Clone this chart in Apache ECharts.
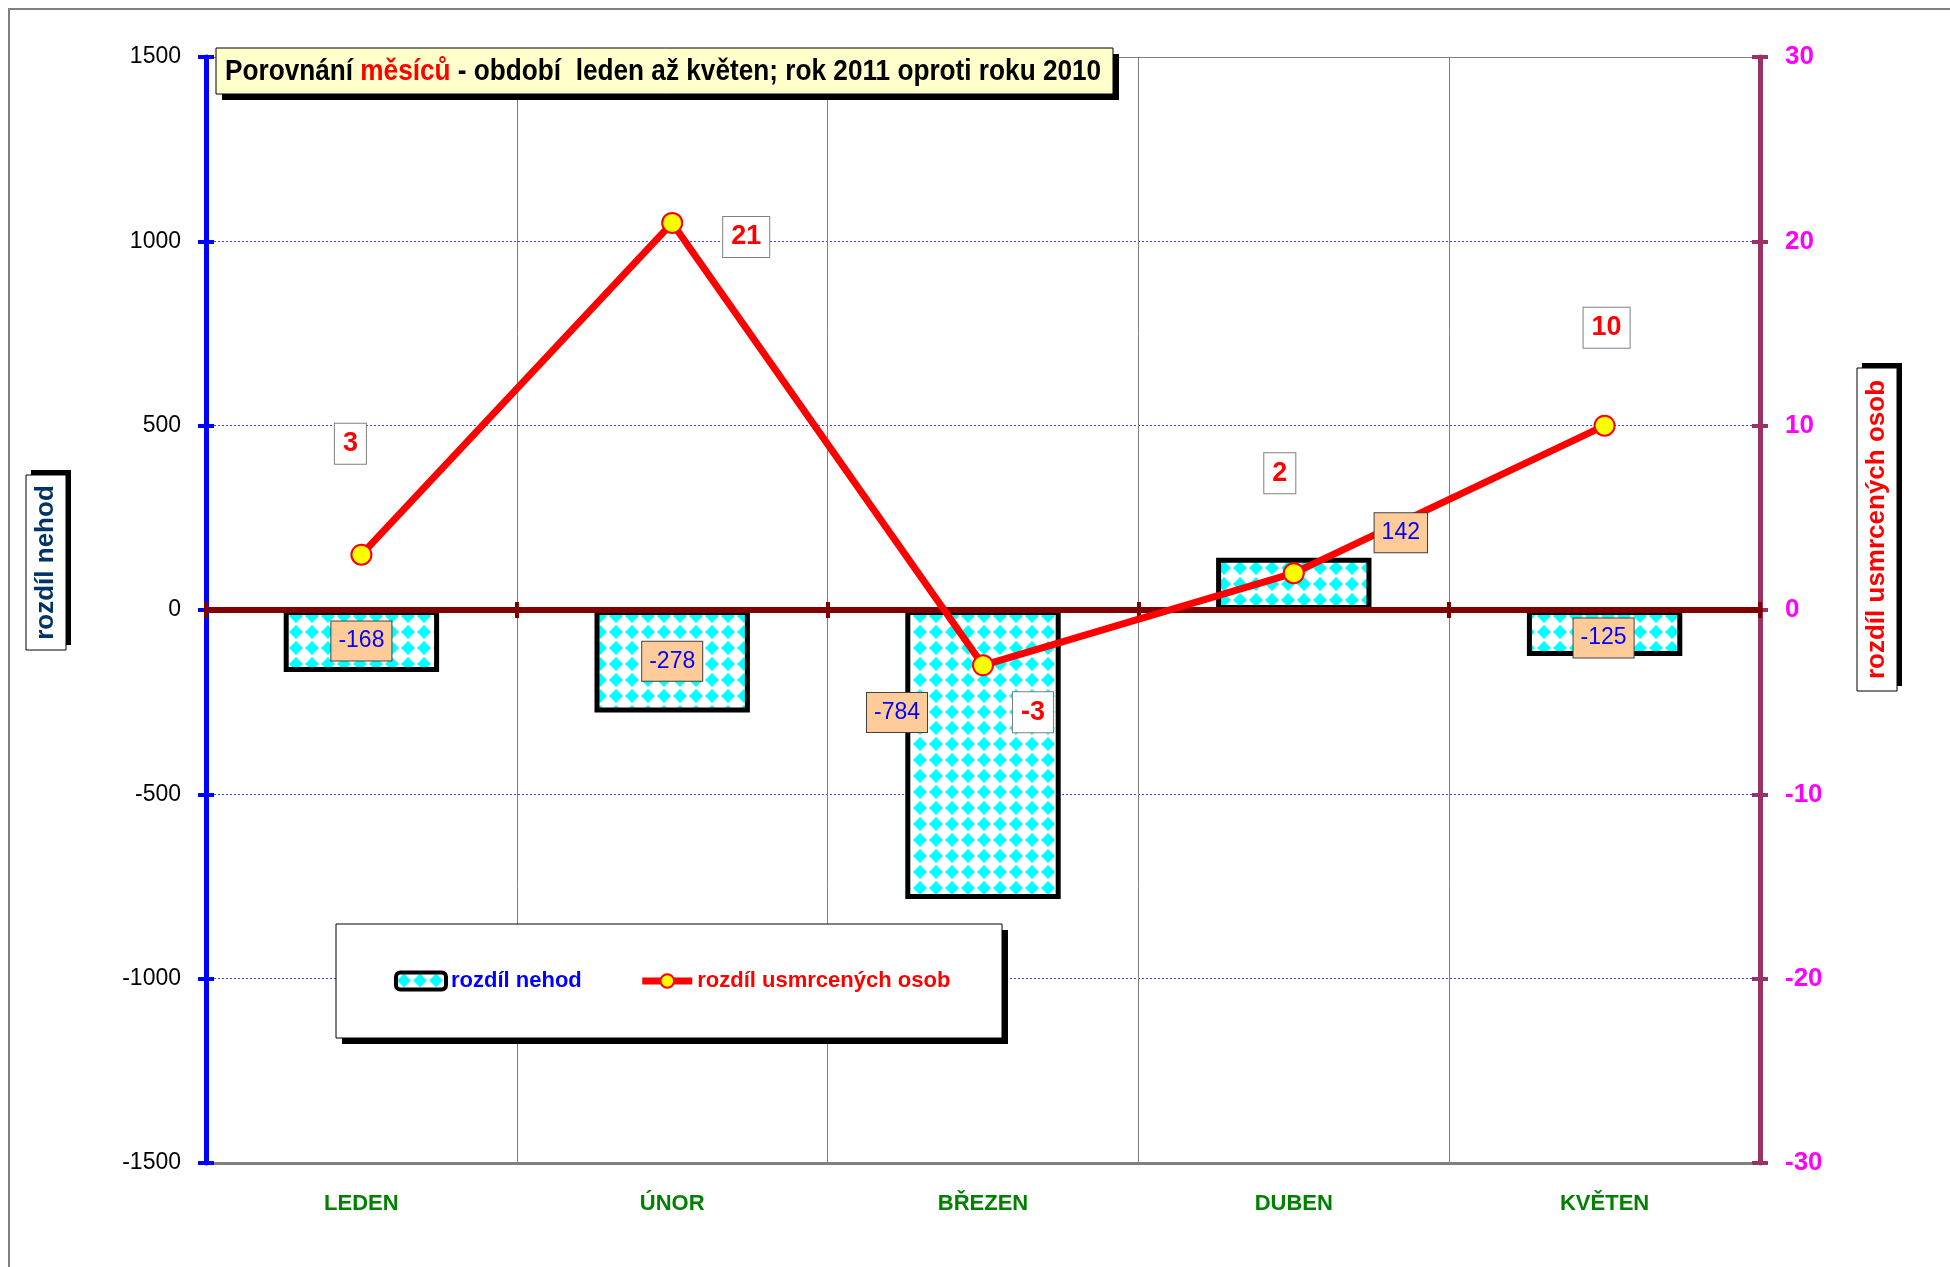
<!DOCTYPE html>
<html><head><meta charset="utf-8">
<script src="https://cdn.jsdelivr.net/npm/echarts@6/dist/echarts.min.js"></script>
<style>html,body{margin:0;padding:0;background:#fff}#c{width:1950px;height:1267px}</style>
</head><body><div id="c"></div>
<script>
// ---- data ----
const categories = ['LEDEN', 'ÚNOR', 'BŘEZEN', 'DUBEN', 'KVĚTEN'];
const accidentDiff = [-168, -278, -784, 142, -125];      // rozdíl nehod (left axis)
const deathDiff = [3, 21, -3, 2, 10];                    // rozdíl usmrcených osob (right axis)
const leftAxisRange = [-1500, 1500];
const leftAxisStep = 500;
const rightAxisRange = [-30, 30];
const rightAxisStep = 10;
const seriesNames = ['rozdíl nehod', 'rozdíl usmrcených osob'];
const axisTitles = ['rozdíl nehod', 'rozdíl usmrcených osob'];
const chartTitleParts = ['Porovnání ', 'měsíců', ' - období  leden až květen; rok 2011 oproti roku 2010'];

// ---- layout (label offsets, pixels) ----
const barLabelOffsets = [[0, 0], [0, 0], [-86, -42], [107, -51], [-1, 5]];
const lineLabelOffsets = [[-11, -111], [74, 14], [50, 47], [-14, -100], [2, -98]];

const SANS = "'Liberation Sans',Arial,sans-serif";

function makePattern() {
  const c = document.createElement('canvas');
  c.width = 16; c.height = 16;
  const g = c.getContext('2d');
  g.fillStyle = '#ffffff'; g.fillRect(0, 0, 16, 16);
  g.fillStyle = '#00FFFF';
  g.beginPath();
  g.moveTo(8, 1); g.lineTo(15, 8); g.lineTo(8, 15); g.lineTo(1, 8);
  g.closePath(); g.fill();
  return c;
}
const pattern = { image: makePattern(), repeat: 'repeat' };

const chart = echarts.init(document.getElementById('c'), null, { renderer: 'canvas' });

const xBase = { type: 'category', data: categories, boundaryGap: true };
const plainNum = v => String(v);

const option = {
  backgroundColor: '#ffffff',
  animation: false,
  legend: {
    left: 336, top: 924, z: 6,
    orient: 'horizontal',
    padding: [44, 51, 44, 58],
    itemGap: 57, itemWidth: 50, itemHeight: 17,
    selectedMode: false,
    textStyle: { fontFamily: SANS, fontWeight: 'bold', fontSize: 22, lineHeight: 26 },
    data: [
      { name: seriesNames[0], textStyle: { color: '#0000FF' },
        itemStyle: { borderColor: '#000000', borderWidth: 4 } },
      { name: seriesNames[1], textStyle: { color: '#FF0000' },
        lineStyle: { color: '#FF0000', width: 7 },
        itemStyle: { color: '#FFFF00', borderColor: '#FF0000', borderWidth: 2 } }
    ]
  },
  grid: { left: 206, right: 190, top: 57, bottom: 104, containLabel: false },
  xAxis: [
    Object.assign({}, xBase, {
      position: 'bottom',
      axisLine: { onZero: false, lineStyle: { color: '#808080', width: 3 } },
      axisTick: { show: false },
      axisLabel: { color: '#008000', fontFamily: SANS, fontWeight: 'bold', fontSize: 22, margin: 30 },
      splitLine: { show: true, lineStyle: { color: '#808080', width: 1 } }
    }),
    Object.assign({}, xBase, {
      position: 'bottom', z: 3,
      axisLine: { onZero: true, lineStyle: { color: '#800000', width: 6 } },
      axisTick: { show: true, inside: false, length: 8, lineStyle: { color: '#800000', width: 4 } },
      axisLabel: { show: false },
      splitLine: { show: false }
    }),
    Object.assign({}, xBase, {
      position: 'bottom', z: 3,
      axisLine: { show: false, onZero: true },
      axisTick: { show: true, inside: true, length: 8, lineStyle: { color: '#800000', width: 4 } },
      axisLabel: { show: false },
      splitLine: { show: false }
    }),
    Object.assign({}, xBase, {
      position: 'top',
      axisLine: { onZero: false, lineStyle: { color: '#808080', width: 1 } },
      axisTick: { show: false },
      axisLabel: { show: false },
      splitLine: { show: false }
    })
  ],
  yAxis: [
    {
      type: 'value', position: 'left',
      min: leftAxisRange[0], max: leftAxisRange[1], interval: leftAxisStep,
      axisLine: { show: true, onZero: false, lineStyle: { color: '#0000FF', width: 5 } },
      axisTick: { show: true, length: 8, lineStyle: { color: '#0000FF', width: 4 } },
      axisLabel: { color: '#000000', fontFamily: SANS, fontSize: 23, margin: 25, formatter: plainNum },
      splitLine: { show: true, lineStyle: { color: '#4040FF', width: 1, type: [2, 2] } }
    },
    {
      type: 'value', position: 'right',
      min: rightAxisRange[0], max: rightAxisRange[1], interval: rightAxisStep,
      axisLine: { show: true, onZero: false, lineStyle: { color: '#993366', width: 5 } },
      axisTick: { show: true, length: 8, lineStyle: { color: '#993366', width: 4 } },
      axisLabel: { color: '#FF00FF', fontFamily: SANS, fontWeight: 'bold', fontSize: 26, margin: 25, formatter: plainNum },
      splitLine: { show: false }
    },
    {
      type: 'value', position: 'left',
      min: leftAxisRange[0], max: leftAxisRange[1], interval: leftAxisStep,
      axisLine: { show: false, onZero: false },
      axisTick: { show: true, inside: true, length: 8, lineStyle: { color: '#0000FF', width: 4 } },
      axisLabel: { show: false }, splitLine: { show: false }
    },
    {
      type: 'value', position: 'right',
      min: rightAxisRange[0], max: rightAxisRange[1], interval: rightAxisStep,
      axisLine: { show: false, onZero: false },
      axisTick: { show: true, inside: true, length: 8, lineStyle: { color: '#993366', width: 4 } },
      axisLabel: { show: false }, splitLine: { show: false }
    }
  ],
  series: [
    {
      name: seriesNames[0], type: 'bar', xAxisIndex: 0, yAxisIndex: 0, z: 2,
      barWidth: '50%',
      data: accidentDiff,
      itemStyle: { color: pattern, borderColor: '#000000', borderWidth: 5 },
      label: { show: false }
    },
    {
      name: seriesNames[1], type: 'line', xAxisIndex: 0, yAxisIndex: 1, z: 5,
      data: deathDiff.map((v, i) => ({ value: v, label: { offset: lineLabelOffsets[i] } })),
      lineStyle: { color: '#FF0000', width: 7 },
      symbol: 'circle', symbolSize: 20,
      itemStyle: { color: '#FFFF00', borderColor: '#FF0000', borderWidth: 2 },
      label: {
        show: true, position: 'inside',
        fontFamily: SANS, fontWeight: 'bold', fontSize: 27, lineHeight: 27,
        color: '#FF0000', backgroundColor: '#ffffff',
        borderColor: '#808080', borderWidth: 1, padding: [7, 8, 6, 8]
      }
    },
    {
      name: 'labels', type: 'bar', xAxisIndex: 0, yAxisIndex: 0, z: 8,
      barWidth: '50%', barGap: '-100%', silent: true,
      data: accidentDiff.map((v, i) => ({ value: v, label: { offset: barLabelOffsets[i] } })),
      itemStyle: { color: 'rgba(0,0,0,0)', borderWidth: 0 },
      label: {
        show: true, position: 'inside',
        fontFamily: SANS, fontSize: 23, lineHeight: 23,
        color: '#0000FF', backgroundColor: '#FFCC99',
        borderColor: '#404040', borderWidth: 1, padding: [8, 7, 8, 7]
      }
    }
  ],
  graphic: [
    { type: 'rect', z: 0, silent: true,
      shape: { x: 9, y: 9, width: 2000, height: 2000 },
      style: { fill: 'none', stroke: '#808080', lineWidth: 2 } },
    // chart title box
    { type: 'rect', z: 3, silent: true, shape: { x: 222, y: 54, width: 897, height: 46 }, style: { fill: '#000000' } },
    { type: 'rect', z: 3, silent: true, shape: { x: 216, y: 48, width: 897, height: 46 }, style: { fill: '#FFFFCC', stroke: '#000000', lineWidth: 1 } },
    { type: 'text', z: 4, silent: true, x: 225, y: 72, scaleX: 0.873, scaleY: 1,
      style: {
        text: '{a|' + chartTitleParts[0] + '}{r|' + chartTitleParts[1] + '}{a|' + chartTitleParts[2] + '}',
        verticalAlign: 'middle', textVerticalAlign: 'middle', align: 'left', textAlign: 'left',
        rich: {
          a: { fontFamily: SANS, fontWeight: 'bold', fontSize: 30, fill: '#000000', color: '#000000' },
          r: { fontFamily: SANS, fontWeight: 'bold', fontSize: 30, fill: '#FF0000', color: '#FF0000' }
        }
      } },
    // legend box
    { type: 'rect', z: 3, silent: true, shape: { x: 342, y: 930, width: 666, height: 114 }, style: { fill: '#000000' } },
    { type: 'rect', z: 3, silent: true, shape: { x: 336, y: 924, width: 666, height: 114 }, style: { fill: '#ffffff', stroke: '#000000', lineWidth: 1 } },
    // left axis title box
    { type: 'rect', z: 10, silent: true, shape: { x: 31, y: 470, width: 40, height: 175 }, style: { fill: '#000000' } },
    { type: 'rect', z: 11, silent: true, shape: { x: 26, y: 475, width: 40, height: 175 }, style: { fill: '#ffffff', stroke: '#000000', lineWidth: 1 } },
    { type: 'text', z: 12, silent: true, x: 46, y: 562.5, rotation: Math.PI / 2,
      style: { text: axisTitles[0], fontFamily: SANS, fontWeight: 'bold', fontSize: 26, fill: '#003366',
               align: 'center', verticalAlign: 'middle', textAlign: 'center', textVerticalAlign: 'middle' } },
    // right axis title box
    { type: 'rect', z: 10, silent: true, shape: { x: 1862, y: 363, width: 40, height: 323 }, style: { fill: '#000000' } },
    { type: 'rect', z: 11, silent: true, shape: { x: 1857, y: 368, width: 40, height: 323 }, style: { fill: '#ffffff', stroke: '#000000', lineWidth: 1 } },
    { type: 'text', z: 12, silent: true, x: 1877, y: 529.5, rotation: Math.PI / 2,
      style: { text: axisTitles[1], fontFamily: SANS, fontWeight: 'bold', fontSize: 26, fill: '#FF0000',
               align: 'center', verticalAlign: 'middle', textAlign: 'center', textVerticalAlign: 'middle' } }
  ]
};

chart.setOption(option);
</script>
</body></html>
